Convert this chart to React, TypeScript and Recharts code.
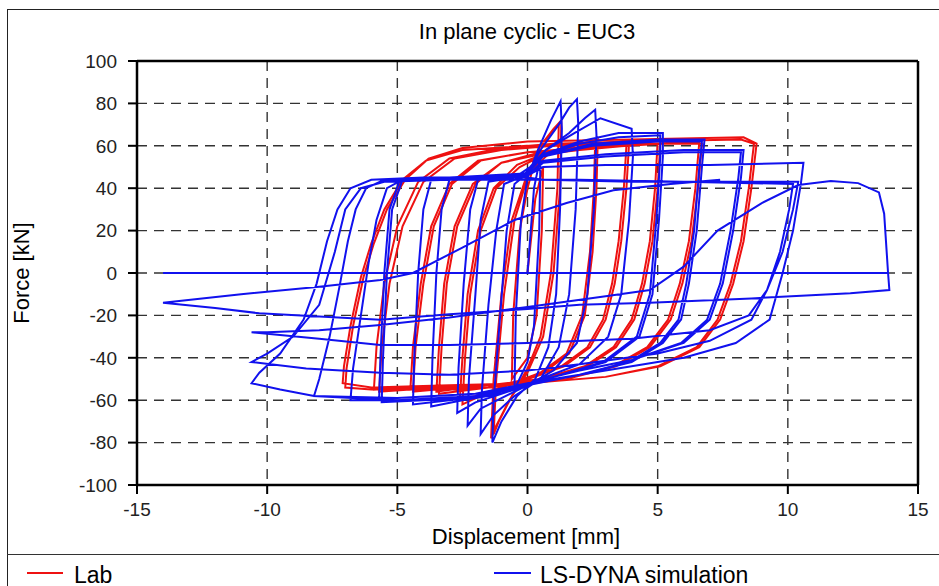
import { CartesianGrid, ComposedChart, Line, XAxis, YAxis } from "recharts";

type Pt = [number, number];

const xTicks = [-15, -10, -5, 0, 5, 10, 15];
const yTicks = [-100, -80, -60, -40, -20, 0, 20, 40, 60, 80, 100];

// Lab test: displacement [mm], force [kN]
const labLoop1: Pt[] = [[0, 0], [0.3, 35], [0.6, 50], [0.55, 20], [0.35, -20], [0, -40], [-0.6, -50], [-0.55, -20], [-0.3, 20], [0, 40]];
const labLoop2: Pt[] = [[0.4, 58], [0.9, 66], [1.2, 70], [1.15, 40], [0.9, 0], [0.5, -30], [0, -45], [-0.6, -58], [-1.1, -70], [-1.3, -76], [-1.2, -50], [-0.9, -10], [-0.5, 25], [0, 45]];
const labLoop3: Pt[] = [[0.5, 60], [1.0, 68], [1.3, 72], [1.25, 40], [1.0, 0], [0.6, -30], [0, -47], [-0.7, -60], [-1.2, -72], [-1.4, -78], [-1.3, -50], [-1.0, -10], [-0.6, 25], [0, 47]];
const labLoop4: Pt[] = [[0.8, 56], [1.8, 60], [2.6, 62], [2.55, 40], [2.4, 10], [2.1, -20], [1.5, -38], [0.5, -47], [-0.8, -53], [-1.8, -58], [-2.5, -62], [-2.4, -40], [-2.2, -10], [-1.8, 20], [-1.2, 40], [-0.3, 50], [0.5, 55]];
const labLoop5: Pt[] = [[1.5, 59], [2.7, 63], [2.65, 40], [2.5, 10], [2.2, -20], [1.6, -38], [0.5, -48], [-1, -54], [-2, -58], [-2.6, -60], [-2.5, -40], [-2.3, -10], [-1.9, 20], [-1.3, 40], [-0.4, 51], [0.6, 56]];
const labLoop6: Pt[] = [[2, 58], [3.8, 60], [3.7, 40], [3.5, 15], [3.25, -5], [2.9, -22], [2.3, -35], [1.3, -44], [0, -50], [-1.5, -54], [-2.8, -56], [-3.4, -57], [-3.3, -35], [-3.1, -5], [-2.7, 22], [-2, 42], [-1, 52], [0.5, 56]];
const labLoop7: Pt[] = [[2, 58], [3.9, 61], [3.8, 40], [3.6, 15], [3.35, -5], [3.0, -22], [2.4, -35], [1.4, -44], [0, -50], [-1.5, -54], [-2.9, -55], [-3.5, -56], [-3.4, -35], [-3.2, -5], [-2.8, 22], [-2.1, 42], [-1, 52], [0.5, 57]];
const labLoop8: Pt[] = [[2.5, 60], [5.0, 62], [4.9, 40], [4.7, 15], [4.4, -5], [4.0, -22], [3.3, -35], [2.2, -44], [0.5, -50], [-1.5, -54], [-3.5, -55], [-4.4, -56], [-4.3, -35], [-4.0, -5], [-3.6, 22], [-2.9, 42], [-1.8, 53], [0, 57]];
const labLoop9: Pt[] = [[2.5, 59], [5.1, 61], [5.0, 40], [4.8, 15], [4.5, -5], [4.1, -22], [3.4, -35], [2.3, -44], [0.5, -50], [-1.5, -53], [-3.6, -54], [-4.5, -55], [-4.4, -35], [-4.1, -5], [-3.7, 22], [-3.0, 42], [-1.9, 53], [0, 57]];
const labLoop10: Pt[] = [[3, 60], [6.6, 62], [6.45, 40], [6.2, 15], [5.85, -5], [5.4, -22], [4.6, -35], [3.3, -44], [1.5, -50], [-1.5, -54], [-4.5, -55], [-5.7, -56], [-5.6, -35], [-5.3, -5], [-4.8, 22], [-4.0, 43], [-2.8, 54], [-1, 58], [1, 60]];
const labLoop11: Pt[] = [[3.5, 61], [6.7, 61], [6.55, 40], [6.3, 15], [5.95, -5], [5.5, -22], [4.7, -35], [3.4, -44], [1.5, -50], [-1.5, -53], [-4.6, -54], [-5.9, -55], [-5.8, -35], [-5.5, -5], [-5.0, 22], [-4.2, 43], [-3.0, 54], [-1, 59], [1, 61]];
const labLoop12: Pt[] = [[4, 62], [8.2, 63], [8.7, 61], [8.5, 40], [8.2, 15], [7.8, -5], [7.3, -22], [6.5, -35], [5, -44], [3, -49], [0, -52], [-3, -54], [-6, -55], [-7.0, -54], [-6.95, -45], [-6.7, -25], [-6.3, -2], [-5.9, 14], [-5.4, 30], [-4.7, 44], [-3.8, 54], [-2.5, 59], [0, 62]];
const labLoop13: Pt[] = [[4, 63], [8.3, 64], [8.8, 61], [8.6, 40], [8.3, 15], [7.9, -5], [7.4, -22], [6.6, -35], [5.1, -44], [3, -49], [0, -52], [-3, -53], [-6, -54], [-7.1, -52], [-7.05, -44], [-6.8, -25], [-6.4, -2], [-6.0, 14], [-5.5, 30], [-4.8, 44], [-3.9, 53], [-2.5, 58], [0, 60]];

// LS-DYNA simulation
const dynaLoop1: Pt[] = [[0, 0], [0.25, 40], [0.5, 55], [0.45, 20], [0.25, -25], [0, -42], [-0.5, -55], [-0.45, -20], [-0.25, 25], [0, 45]];
const dynaLoop2: Pt[] = [[0.4, 58], [0.9, 72], [1.27, 81], [1.32, 68], [1.25, 30], [1.1, -10], [0.8, -35], [0.3, -50], [-0.4, -58], [-1.0, -70], [-1.35, -80], [-1.3, -60], [-1.05, -20], [-0.8, 20], [-0.5, 42], [0, 47]];
const dynaLoop3: Pt[] = [[0.5, 58], [1.2, 70], [1.6, 78], [1.9, 82], [1.95, 70], [1.85, 30], [1.6, -10], [1.2, -35], [0.5, -50], [-0.5, -58], [-1.3, -67], [-1.8, -76], [-1.75, -55], [-1.5, -15], [-1.2, 20], [-0.9, 42], [-0.3, 45], [0.2, 50]];
const dynaLoop4: Pt[] = [[0.7, 58], [1.6, 66], [2.2, 73], [2.6, 77], [2.65, 65], [2.55, 30], [2.3, -10], [1.9, -33], [1.0, -46], [0, -53], [-1.0, -59], [-1.8, -64], [-2.3, -72], [-2.25, -50], [-2.0, -10], [-1.8, 25], [-1.5, 43], [-0.5, 45], [0.1, 50]];
const dynaLoop5: Pt[] = [[0.7, 58], [1.8, 66], [2.8, 73], [4.0, 68], [4.05, 55], [3.9, 25], [3.6, -10], [3.1, -30], [2.0, -43], [0.5, -50], [-1, -57], [-2.0, -61], [-2.7, -66], [-2.65, -45], [-2.45, -5], [-2.2, 30], [-1.9, 44], [-0.8, 45], [0, 47]];
const dynaLoop6: Pt[] = [[0.6, 56], [2.0, 62], [3.5, 66], [5.2, 66], [5.2, 55], [5.05, 25], [4.8, -10], [4.3, -30], [3.0, -42], [1.0, -49], [-1, -57], [-2.5, -60], [-3.7, -63], [-3.65, -40], [-3.5, 0], [-3.3, 30], [-3.0, 44], [-1.5, 45], [0, 47]];
const dynaLoop7: Pt[] = [[0.6, 55], [2.0, 61], [3.5, 64], [5.1, 65], [5.1, 55], [4.95, 25], [4.7, -10], [4.2, -30], [2.9, -42], [1.0, -49], [-1, -57], [-3, -60], [-4.4, -62], [-4.35, -40], [-4.2, 0], [-4.0, 30], [-3.7, 44], [-2, 45], [0, 47]];
const dynaLoop8: Pt[] = [[0.6, 55], [2.5, 61], [5, 63], [6.8, 63], [6.7, 50], [6.5, 20], [6.2, -5], [5.9, -22], [5.2, -33], [4, -42], [2, -48], [0, -53], [-2, -59], [-4, -60], [-5.6, -61], [-5.55, -40], [-5.4, 0], [-5.2, 30], [-4.8, 44], [-3, 45], [0, 47]];
const dynaLoop9: Pt[] = [[0.6, 55], [2.5, 60], [5, 62], [6.7, 62], [6.6, 50], [6.4, 20], [6.1, -5], [5.8, -22], [5.1, -33], [3.9, -42], [2, -48], [0, -53], [-2, -59], [-4, -60], [-5.7, -60], [-5.65, -40], [-5.5, 0], [-5.3, 30], [-4.9, 44], [-3, 45], [0, 46]];
const dynaLoop10: Pt[] = [[0.6, 53], [3, 56], [6, 58], [8.3, 58], [8.2, 45], [7.9, 20], [7.5, -5], [7.0, -22], [6.0, -33], [4, -41], [2, -46], [0, -52], [-2, -58], [-4.5, -60], [-6.8, -60], [-6.7, -45], [-6.4, -20], [-6.1, 5], [-5.8, 25], [-5.4, 40], [-4.8, 44], [-2, 45], [0, 46]];
const dynaLoop11: Pt[] = [[0.6, 52], [3, 55], [6, 57], [8.2, 57], [8.1, 45], [7.8, 20], [7.4, -5], [6.9, -22], [5.9, -33], [4, -41], [2, -46], [0, -52], [-2, -58], [-5, -60], [-8.2, -58], [-8.0, -50], [-7.6, -30], [-7.2, -5], [-6.9, 15], [-6.6, 30], [-6.2, 40], [-5.5, 44], [-2, 45], [0, 46]];
const dynaLoop12: Pt[] = [[0.6, 50], [3, 51], [7, 51], [10.6, 52], [10.5, 42], [10.2, 20], [9.8, 0], [9.3, -22], [8, -33], [6, -40], [3, -46], [0, -52], [-2, -57], [-5, -59], [-8.2, -58], [-9.5, -55], [-10.6, -52], [-10.3, -47], [-9.5, -38], [-8.6, -22], [-8.1, -5], [-7.7, 15], [-7.3, 30], [-6.8, 40], [-6, 44], [-4, 45], [0, 45]];
const dynaLoop13: Pt[] = [[0.6, 44], [4, 43], [8, 43], [10.4, 43], [10.2, 30], [9.8, 10], [9.2, -8], [8.6, -22], [7, -32], [5, -38], [2, -43], [0, -46], [-3, -48], [-5.65, -47], [-8.5, -45], [-10.6, -42], [-10, -38], [-9, -30], [-8, -15], [-7.4, 10], [-7, 30], [-6.4, 40], [-5.5, 43], [-3, 44], [0, 44]];
const dynaLoop14: Pt[] = [[2, 44], [6, 43], [10.2, 42], [10.05, 30], [9.7, 10], [9.2, -8], [8.5, -20], [7, -27], [4, -31], [0, -33], [-3, -34], [-5.65, -34], [-8, -31], [-10.6, -28]];
const dynaFinal: Pt[] = [[-10, -28], [-8, -27], [-5.65, -24.5], [-3, -21], [0, -16], [3, -11], [4.7, -8], [6, 3], [7.3, 20], [9, 33], [10.4, 41.5], [11.65, 43.4], [12.7, 42.4], [13.5, 38], [13.7, 28], [13.85, 0], [13.9, -8], [12.4, -9.5], [8.6, -12], [4.7, -14], [2, -15], [0, -17], [-3, -19.5], [-5.65, -22], [-8, -20.5], [-10.3, -19], [-12, -16.5], [-14, -14], [-11, -10], [-8, -6.5], [-5.65, -3.3], [-4.4, 0], [-2.5, 12], [-0.5, 25], [1.5, 33], [3.3, 39], [5.5, 42], [7.4, 44]];
const dynaZeroLine: Pt[] = [[-14, 0], [13.85, 0]];

const labLoops = [labLoop1, labLoop2, labLoop3, labLoop4, labLoop5, labLoop6, labLoop7, labLoop8, labLoop9, labLoop10, labLoop11, labLoop12, labLoop13];
const dynaLoops = [dynaLoop1, dynaLoop2, dynaLoop3, dynaLoop4, dynaLoop5, dynaLoop6, dynaLoop7, dynaLoop8, dynaLoop9, dynaLoop10, dynaLoop11, dynaLoop12, dynaLoop13, dynaLoop14, dynaFinal];

const toRows = (pts: Pt[]) => pts.map(([x, y]) => ({ x, y }));

const labData = toRows(labLoops.flat());
const dynaData = toRows(dynaLoops.flat());
const zeroData = toRows(dynaZeroLine);

const RED = "#ee1111";
const BLUE = "#1111ee";
const FONT = '"Liberation Sans", Arial, sans-serif';

const axisLine = { stroke: "#000", strokeWidth: 2.5 };
const tickLine = { stroke: "#000", strokeWidth: 2 };
const tickStyle = { fontSize: 19, fill: "#222" };

export default function App() {
  return (
    <div
      style={{
        position: "absolute",
        left: 0,
        top: 0,
        width: 939,
        height: 586,
        overflow: "hidden",
        background: "#fff",
        fontFamily: FONT,
        color: "#000",
      }}
    >
      <div
        style={{
          position: "absolute",
          left: 7,
          top: 9,
          width: 960,
          height: 600,
          border: "1.5px solid #222",
        }}
      />
      <div style={{ position: "absolute", left: 7, top: 554, width: 940, height: 0, borderTop: "1.5px solid #333" }} />

      <ComposedChart width={939} height={586} margin={{ top: 52, right: 12, bottom: 61, left: 0 }}>
        <CartesianGrid xAxisId="bottom" yAxisId="left" stroke="#333" strokeWidth={1.4} strokeDasharray="10 7" />
        <XAxis
          xAxisId="bottom"
          dataKey="x"
          type="number"
          domain={[-15, 15]}
          ticks={xTicks}
          interval={0}
          height={40}
          tickSize={9}
          tickMargin={9}
          axisLine={axisLine}
          tickLine={tickLine}
          tick={tickStyle}
        />
        <XAxis
          xAxisId="top"
          orientation="top"
          dataKey="x"
          type="number"
          domain={[-15, 15]}
          ticks={xTicks}
          interval={0}
          height={9}
          tickSize={9}
          axisLine={axisLine}
          tickLine={tickLine}
          tick={false}
        />
        <YAxis
          yAxisId="left"
          type="number"
          domain={[-100, 100]}
          ticks={yTicks}
          interval={0}
          width={137}
          tickSize={9}
          tickMargin={11}
          axisLine={axisLine}
          tickLine={tickLine}
          tick={tickStyle}
        />
        <YAxis
          yAxisId="right"
          orientation="right"
          type="number"
          domain={[-100, 100]}
          ticks={yTicks}
          interval={0}
          width={9}
          tickSize={9}
          axisLine={axisLine}
          tickLine={tickLine}
          tick={false}
        />
        <Line
          xAxisId="bottom"
          yAxisId="left"
          data={labData}
          dataKey="y"
          type="linear"
          stroke={RED}
          strokeWidth={2}
          dot={false}
          isAnimationActive={false}
        />
        <Line
          xAxisId="bottom"
          yAxisId="left"
          data={dynaData}
          dataKey="y"
          type="linear"
          stroke={BLUE}
          strokeWidth={2}
          dot={false}
          isAnimationActive={false}
        />
        <Line
          xAxisId="bottom"
          yAxisId="left"
          data={zeroData}
          dataKey="y"
          type="linear"
          stroke={BLUE}
          strokeWidth={2}
          dot={false}
          isAnimationActive={false}
        />
      </ComposedChart>

      <div style={{ position: "absolute", left: 527, top: 32, transform: "translate(-50%, -50%)", fontSize: 22, lineHeight: 1, whiteSpace: "nowrap" }}>
        In plane cyclic - EUC3
      </div>
      <div style={{ position: "absolute", left: 526, top: 537, transform: "translate(-50%, -50%)", fontSize: 22, lineHeight: 1, whiteSpace: "nowrap" }}>
        Displacement [mm]
      </div>
      <div
        style={{
          position: "absolute",
          left: 22,
          top: 273,
          transform: "translate(-50%, -50%) rotate(-90deg)",
          fontSize: 22,
          lineHeight: 1,
          whiteSpace: "nowrap",
        }}
      >
        Force [kN]
      </div>

      <div style={{ position: "absolute", left: 27, top: 572, width: 36, height: 2, background: RED }} />
      <div style={{ position: "absolute", left: 74, top: 575, transform: "translateY(-50%)", fontSize: 23, lineHeight: 1, whiteSpace: "nowrap" }}>
        Lab
      </div>
      <div style={{ position: "absolute", left: 494, top: 572, width: 37, height: 2, background: BLUE }} />
      <div style={{ position: "absolute", left: 540, top: 575, transform: "translateY(-50%)", fontSize: 23, lineHeight: 1, whiteSpace: "nowrap" }}>
        LS-DYNA simulation
      </div>
    </div>
  );
}
